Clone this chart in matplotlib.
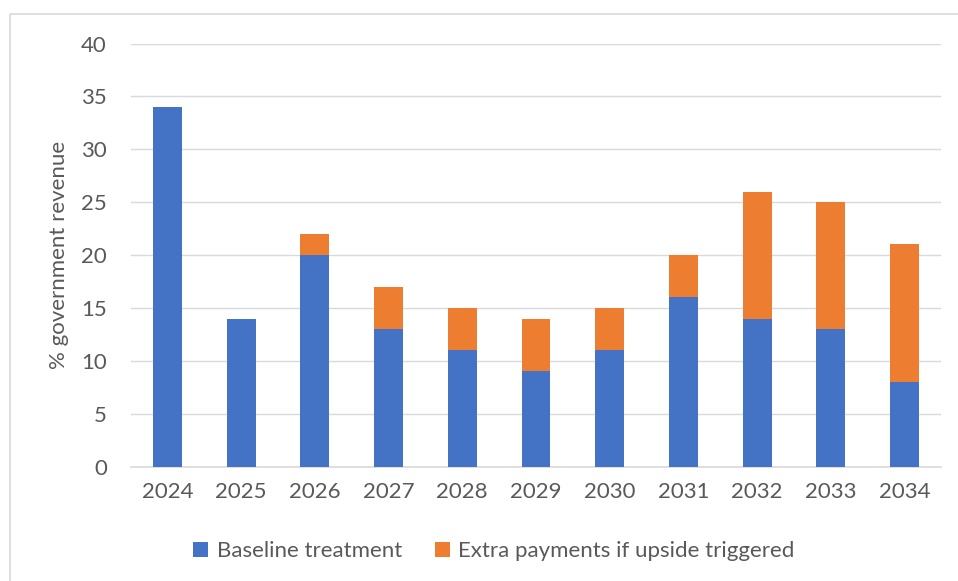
import matplotlib.pyplot as plt
from matplotlib.patches import Rectangle

# Données
years = ['2024', '2025', '2026', '2027', '2028', '2029', '2030', '2031', '2032', '2033', '2034']
baseline = [34, 14, 20, 13, 11, 9, 11, 16, 14, 13, 8]
extra = [0, 0, 2, 4, 4, 5, 4, 4, 12, 12, 13]

plt.rcParams['font.family'] = ['Lato', 'DejaVu Sans']

fig = plt.figure(figsize=(9.58, 5.81), dpi=100)
ax = fig.add_axes([0.1363, 0.197, 0.8464, 0.728])

# bordure du graphique (gauche et haut seulement visibles)
fig.patches.append(Rectangle((10 / 958, -0.1), 1.2, 1 - 14 / 581 + 0.1,
                             transform=fig.transFigure, fill=False,
                             edgecolor='#d9d9d9', linewidth=1.2))

x = range(len(years))
ax.bar(x, baseline, width=0.39, color='#4472C4', label='Baseline treatment', zorder=3)
ax.bar(x, extra, width=0.39, bottom=baseline, color='#ED7D31',
       label='Extra payments if upside triggered', zorder=3)

ax.set_xlim(-0.5, len(years) - 0.5)
ax.set_ylim(0, 40)
ax.set_yticks(range(0, 41, 5))
ax.set_xticks(list(x))
ax.set_xticklabels(years)
ax.grid(axis='y', color='#d9d9d9', linewidth=1, zorder=0)
for s in ['top', 'right', 'left']:
    ax.spines[s].set_visible(False)
ax.spines['bottom'].set_color('#d9d9d9')
ax.spines['bottom'].set_linewidth(1.2)
ax.tick_params(length=0, labelsize=16, labelcolor='#595959')
ax.tick_params(axis='x', pad=11)
ax.tick_params(axis='y', pad=17)
ax.set_ylabel('% government revenue', fontsize=16, color='#595959', labelpad=9)

ax.legend(loc='center', bbox_to_anchor=(494 / 958, 1 - 551 / 581),
          bbox_transform=fig.transFigure, ncol=2, frameon=False,
          fontsize=16, labelcolor='#595959', handlelength=0.65, handleheight=0.65,
          columnspacing=1.5, handletextpad=0.4)

fig.savefig('out.png')
